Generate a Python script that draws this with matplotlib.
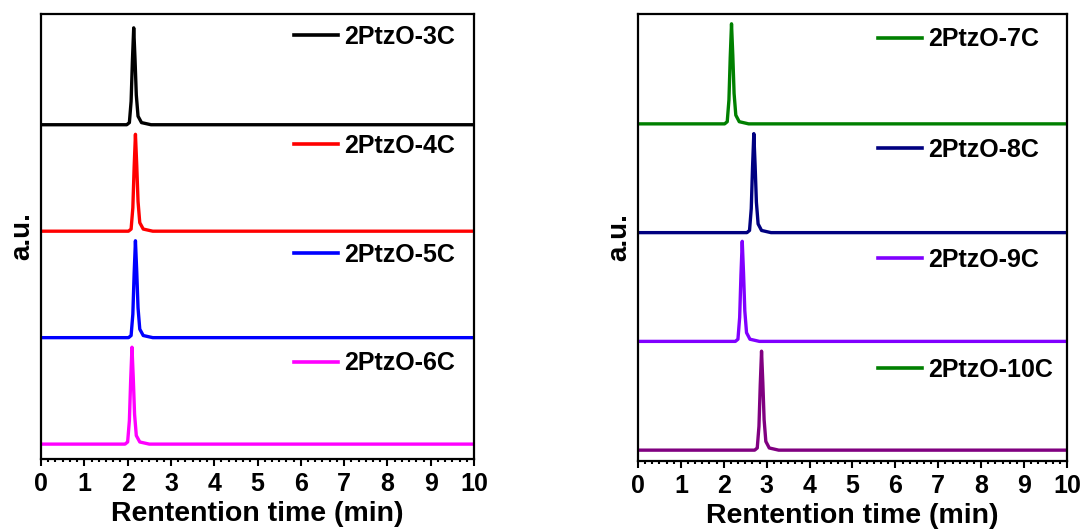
import matplotlib
matplotlib.use("Agg")
import matplotlib.pyplot as plt
from matplotlib.lines import Line2D
from matplotlib.ticker import MultipleLocator, AutoMinorLocator

plt.rcParams['font.family'] = ['Liberation Sans', 'DejaVu Sans']
plt.rcParams['font.weight'] = 'bold'

# ---- data (time in min, normalised intensity) ----
# left panel, top to bottom
t_3c = [0, 1.98, 2.04, 2.08, 2.11, 2.14, 2.17, 2.20, 2.24, 2.32, 2.54, 10]
y_3c = [0, 0.00, 0.02, 0.22, 0.60, 0.91, 0.62, 0.28, 0.08, 0.02, 0.00, 0]
t_4c = [0, 2.02, 2.08, 2.12, 2.15, 2.18, 2.21, 2.24, 2.28, 2.36, 2.58, 10]
y_4c = [0, 0.00, 0.02, 0.22, 0.60, 0.91, 0.62, 0.28, 0.08, 0.02, 0.00, 0]
t_5c = [0, 2.02, 2.08, 2.12, 2.15, 2.18, 2.21, 2.24, 2.28, 2.36, 2.58, 10]
y_5c = [0, 0.00, 0.02, 0.22, 0.60, 0.91, 0.62, 0.28, 0.08, 0.02, 0.00, 0]
t_6c = [0, 1.94, 2.00, 2.04, 2.07, 2.10, 2.13, 2.16, 2.20, 2.28, 2.50, 10]
y_6c = [0, 0.00, 0.02, 0.22, 0.60, 0.91, 0.62, 0.28, 0.08, 0.02, 0.00, 0]

# right panel, top to bottom
t_7c = [0, 2.02, 2.08, 2.12, 2.15, 2.18, 2.21, 2.24, 2.28, 2.36, 2.58, 10]
y_7c = [0, 0.00, 0.02, 0.22, 0.61, 0.92, 0.63, 0.28, 0.08, 0.02, 0.00, 0]
t_8c = [0, 2.54, 2.60, 2.64, 2.67, 2.70, 2.73, 2.76, 2.80, 2.88, 3.10, 10]
y_8c = [0, 0.00, 0.02, 0.22, 0.60, 0.91, 0.62, 0.28, 0.08, 0.02, 0.00, 0]
t_9c = [0, 2.27, 2.33, 2.37, 2.40, 2.43, 2.46, 2.49, 2.53, 2.61, 2.83, 10]
y_9c = [0, 0.00, 0.02, 0.22, 0.61, 0.92, 0.63, 0.28, 0.08, 0.02, 0.00, 0]
t_10c = [0, 2.72, 2.78, 2.82, 2.85, 2.88, 2.91, 2.94, 2.98, 3.06, 3.28, 10]
y_10c = [0, 0.00, 0.02, 0.22, 0.60, 0.91, 0.62, 0.28, 0.08, 0.02, 0.00, 0]

left_labels = ['2PtzO-3C', '2PtzO-4C', '2PtzO-5C', '2PtzO-6C']
left_colors = ['#000000', '#ff0000', '#0000ff', '#ff00ff']
left_data = [(t_3c, y_3c), (t_4c, y_4c), (t_5c, y_5c), (t_6c, y_6c)]

right_labels = ['2PtzO-7C', '2PtzO-8C', '2PtzO-9C', '2PtzO-10C']
right_colors = ['#008000', '#000080', '#8000ff', '#800080']
# the legend of the original shows a green swatch for 10C
right_legend_colors = ['#008000', '#000080', '#8000ff', '#008000']
right_data = [(t_7c, y_7c), (t_8c, y_8c), (t_9c, y_9c), (t_10c, y_10c)]

fig = plt.figure(figsize=(10.83, 5.29), dpi=100)
ax1 = fig.add_axes([0.0379, 0.1323, 0.3998, 0.8412])
ax2 = fig.add_axes([0.5891, 0.1285, 0.3961, 0.8450])


def draw_panel(ax, data, colors, leg_colors, labels, ylim, leg_x, leg_y,
               spacing):
    n = len(data)
    for i, (t, y) in enumerate(data):
        off = n - 1 - i
        ax.plot(t, [v + off for v in y], color=colors[i], lw=2.4,
                solid_joinstyle='round')
    handles = [Line2D([], [], color=c, lw=2.6) for c in leg_colors]
    ax.legend(handles, labels, loc='upper left', bbox_to_anchor=(leg_x, leg_y),
              frameon=False, borderpad=0, borderaxespad=0, handlelength=1.75,
              handletextpad=0.25, labelspacing=spacing,
              prop={'size': 18, 'weight': 'bold'})
    ax.set_xlim(0, 10)
    ax.set_ylim(*ylim)
    ax.set_yticks([])
    ax.xaxis.set_major_locator(MultipleLocator(1))
    ax.xaxis.set_minor_locator(AutoMinorLocator(6))
    ax.tick_params(axis='x', which='major', direction='out', length=5,
                   width=1.5, labelsize=18, pad=4)
    ax.tick_params(axis='x', which='minor', direction='out', length=2.5,
                   width=1.5)
    for s in ax.spines.values():
        s.set_linewidth(1.6)
    ax.set_xlabel('Rentention time (min)', fontsize=20.5, fontweight='bold',
                  labelpad=4)
    ax.set_ylabel('a.u.', fontsize=20, fontweight='bold', labelpad=4)


draw_panel(ax1, left_data, left_colors, left_colors, left_labels,
           (-0.14, 4.04), 0.584, 0.975, 3.39)
draw_panel(ax2, right_data, right_colors, right_legend_colors, right_labels,
           (-0.10, 4.01), 0.559, 0.970, 3.45)

fig.savefig('out.png', dpi=100)
